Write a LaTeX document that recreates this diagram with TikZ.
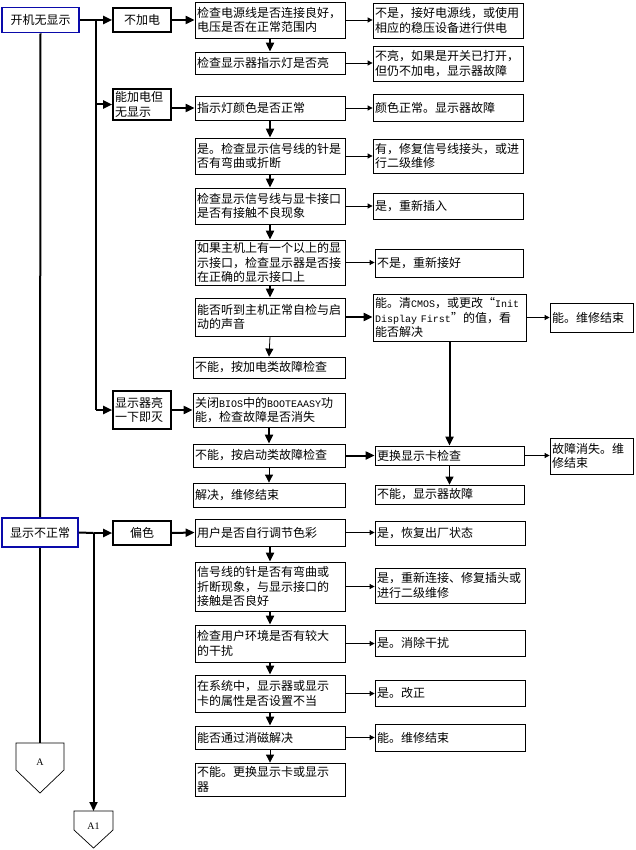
\documentclass[tikz,border=0pt]{standalone}
\usepackage{fontspec}
\setmainfont{Noto Sans CJK SC}
\newfontfamily\serifa{Liberation Serif}
\newfontfamily\monoa{Liberation Mono}
\newcommand{\mlat}[1]{{\monoa\fontsize{10}{14.5}\selectfont #1}}
\usetikzlibrary{arrows.meta}
\definecolor{bblue}{RGB}{10,10,170}
\begin{document}
\begin{tikzpicture}[x=1pt,y=-1pt,
  txt/.style={font=\fontsize{12}{14.5}\selectfont},
  bx/.style={txt,draw,line width=0.8pt,inner xsep=2pt,inner ysep=0pt,align=left,text width=146pt},
  lbx/.style={txt,draw,line width=1.6pt,inner sep=0pt,minimum width=58pt,align=center},
  bluebx/.style={txt,draw=bblue,line width=1.8pt,inner sep=0pt,fill=white},
  thk/.style={line width=2pt,-{Triangle[length=9pt,width=8pt]}},
  thkline/.style={line width=2pt},
  thn/.style={line width=0.8pt,-{Triangle[length=5pt,width=5pt]}},
  med/.style={line width=0.8pt,-{Triangle[length=8pt,width=8pt]}},
  pent/.style={draw,line width=0.7pt,fill=white}]
\useasboundingbox (0,0) rectangle (635,850);

% left column
\node[bluebx,minimum width=77pt,minimum height=25pt] (n1) at (40.5,20) {开机无显示};
\node[lbx,minimum height=24pt] (n2) at (142,20) {不加电};
\node[lbx,minimum height=31pt,text width=54pt,align=left] (n3) at (142,104.5) {能加电但\\无显示};
\node[lbx,minimum height=38pt,text width=54pt,align=left] (n4) at (142,410) {显示器亮\\一下即灭};
\node[bluebx,minimum width=76pt,minimum height=29pt] (n5) at (40,532.5) {显示不正常};
\node[lbx,minimum height=24pt] (n6) at (142,533) {偏色};

% column B
\node[bx,minimum height=36pt] (b1) at (270,20) {检查电源线是否连接良好，\\电压是否在正常范围内};
\node[bx,minimum height=22pt] (b2) at (270,63) {检查显示器指示灯是否亮};
\node[bx,minimum height=24pt] (b3) at (270,108) {指示灯颜色是否正常};
\node[bx,minimum height=36pt] (b4) at (270,156) {是。检查显示信号线的针是\\否有弯曲或折断};
\node[bx,minimum height=36pt] (b5) at (270,206) {检查显示信号线与显卡接口\\是否有接触不良现象};
\node[bx,minimum height=45pt] (b6) at (270,262.5) {如果主机上有一个以上的显\\示接口，检查显示器是否接\\在正确的显示接口上};
\node[bx,minimum height=38pt] (b7) at (270,317) {能否听到主机正常自检与启\\动的声音};
\node[bx,minimum height=21pt,text width=148pt] (b8) at (269,367.5) {不能，按加电类故障检查};
\node[bx,minimum height=34pt,text width=148pt] (b9) at (269,410) {关闭\mlat{BIOS}中的\mlat{BOOTEAASY}功\\能，检查故障是否消失};
\node[bx,minimum height=23pt,text width=148pt] (b10) at (269,455.5) {不能，按启动类故障检查};
\node[bx,minimum height=24pt,text width=148pt] (b11) at (269,495) {解决，维修结束};
\node[bx,minimum height=27pt] (b12) at (270,532.5) {用户是否自行调节色彩};
\node[bx,minimum height=49pt] (b13) at (270,586.5) {信号线的针是否有弯曲或\\折断现象，与显示接口的\\接触是否良好};
\node[bx,minimum height=37pt] (b14) at (270,643.5) {检查用户环境是否有较大\\的干扰};
\node[bx,minimum height=37pt] (b15) at (270,693.5) {在系统中，显示器或显示\\卡的属性是否设置不当};
\node[bx,minimum height=23pt] (b16) at (270,737.5) {能否通过消磁解决};
\node[bx,minimum height=33pt] (b17) at (270,779.5) {不能。更换显示卡或显示\\器};

% column C
\node[bx,minimum height=35pt] (c1) at (448,20.5) {不是，接好电源线，或使用\\相应的稳压设备进行供电};
\node[bx,minimum height=35pt] (c2) at (448,63.5) {不亮，如果是开关已打开，\\但仍不加电，显示器故障};
\node[bx,minimum height=27pt] (c3) at (448,107.5) {颜色正常。显示器故障};
\node[bx,minimum height=34pt] (c4) at (448,156) {有，修复信号线接头，或进\\行二级维修};
\node[bx,minimum height=26pt] (c5) at (448,206) {是，重新插入};
\node[bx,minimum height=28pt,text width=144pt] (c6) at (449,263) {不是，重新接好};
\node[bx,minimum height=47pt,text width=149pt] (c7) at (449.5,317.5) {能。清\mlat{CMOS}，或更改“\mlat{Init}\\\mlat{Display First}”的值，看\\能否解决};
\node[bx,minimum height=19pt,text width=145pt] (c8) at (449.5,455.5) {更换显示卡检查};
\node[bx,minimum height=19pt,text width=145pt] (c9) at (449.5,494.5) {不能，显示器故障};
\node[bx,minimum height=24pt] (c10) at (450,533) {是，恢复出厂状态};
\node[bx,minimum height=35pt] (c11) at (450,585.5) {是，重新连接、修复插头或\\进行二级维修};
\node[bx,minimum height=26pt] (c12) at (450,643) {是。消除干扰};
\node[bx,minimum height=26pt] (c13) at (450,693) {是。改正};
\node[bx,minimum height=27pt] (c14) at (450,737.5) {能。维修结束};

% column D
\node[bx,minimum height=29pt,text width=79pt] (d1) at (591.5,317.5) {能。维修结束};
\node[bx,minimum height=36pt,text width=79pt] (d2) at (591.5,456) {故障消失。维\\修结束};

% off-page connectors
\draw[pent] (16,743) -- (64,743) -- (64,770) -- (40,793) -- (16,770) -- cycle;
\node[font=\serifa\fontsize{10}{12}\selectfont] (A) at (40,762) {A};
\coordinate (Atop) at (40,743);
\draw[pent] (74,811) -- (113,811) -- (113,830) -- (93.5,848) -- (74,830) -- cycle;
\node[font=\serifa\fontsize{10}{12}\selectfont] (A1) at (93.5,826) {A1};
\coordinate (A1top) at (93.5,811);

% junctions
\coordinate (j1) at (96,20);
\coordinate (j4) at (93.5,533);

% main trunk
\draw[thkline] (n1.south) -- (n5.north);
\draw[thkline] (n5.south) -- (Atop);
\draw[thk] (n1.east) -- (n2.west);
\draw[thkline] (j1) -- (j1 |- n4);
\draw[thk] (j1 |- n3) -- (n3.west);
\draw[thk] (j1 |- n4) -- (n4.west);
\draw[thkline] (n5.east) -- (j4);
\draw[thk] (j4) -- (n6.west);
\draw[thk] (j4) -- (A1top);

% into column B
\draw[thk] (n2.east) -- (b1.west);
\draw[thk] (n3.east |- b3) -- (b3.west);
\draw[thk] (n4.east) -- (b9.west);
\draw[thk] (n6.east) -- (b12.west);

% down arrows column B
\draw[thk] (b1.south) -- (b2.north);
\draw[thk] (b3.south) -- (b4.north);
\draw[thk] (b4.south) -- (b5.north);
\draw[thk] (b5.south) -- (b6.north);
\draw[thk] (b6.south) -- (b7.north);
\draw[med] (b7.south) -- (b8.north);
\draw[thk] (b9.south) -- (b10.north);
\draw[med] (b10.south) -- (b11.north);
\draw[thk] (b12.south) -- (b13.north);
\draw[thk] (b13.south) -- (b14.north);
\draw[thk] (b14.south) -- (b15.north);
\draw[thk] (b15.south) -- (b16.north);
\draw[med] (b16.south) -- (b17.north);

% right arrows
\draw[thn] (b1.east) -- (b1.east -| c1.west);
\draw[thn] (b2.east) -- (b2.east -| c2.west);
\draw[thn] (b3.east) -- (b3.east -| c3.west);
\draw[thn] (b4.east) -- (b4.east -| c4.west);
\draw[thn] (b5.east) -- (b5.east -| c5.west);
\draw[thn] (b6.east) -- (b6.east -| c6.west);
\draw[thk] (b7.east) -- (b7.east -| c7.west);
\draw[thk] (b10.east) -- (b10.east -| c8.west);
\draw[thn] (b12.east) -- (b12.east -| c10.west);
\draw[thn] (b13.east) -- (b13.east -| c11.west);
\draw[thn] (b14.east) -- (b14.east -| c12.west);
\draw[thn] (b15.east) -- (b15.east -| c13.west);
\draw[thn] (b16.east) -- (b16.east -| c14.west);
\draw[thn] (c7.east) -- (c7.east -| d1.west);
\draw[thn] (c8.east) -- (c8.east -| d2.west);

% column C verticals
\draw[thk] (c7.south) -- (c8.north);
\draw[med] (c8.south) -- (c9.north);
\end{tikzpicture}
\end{document}
